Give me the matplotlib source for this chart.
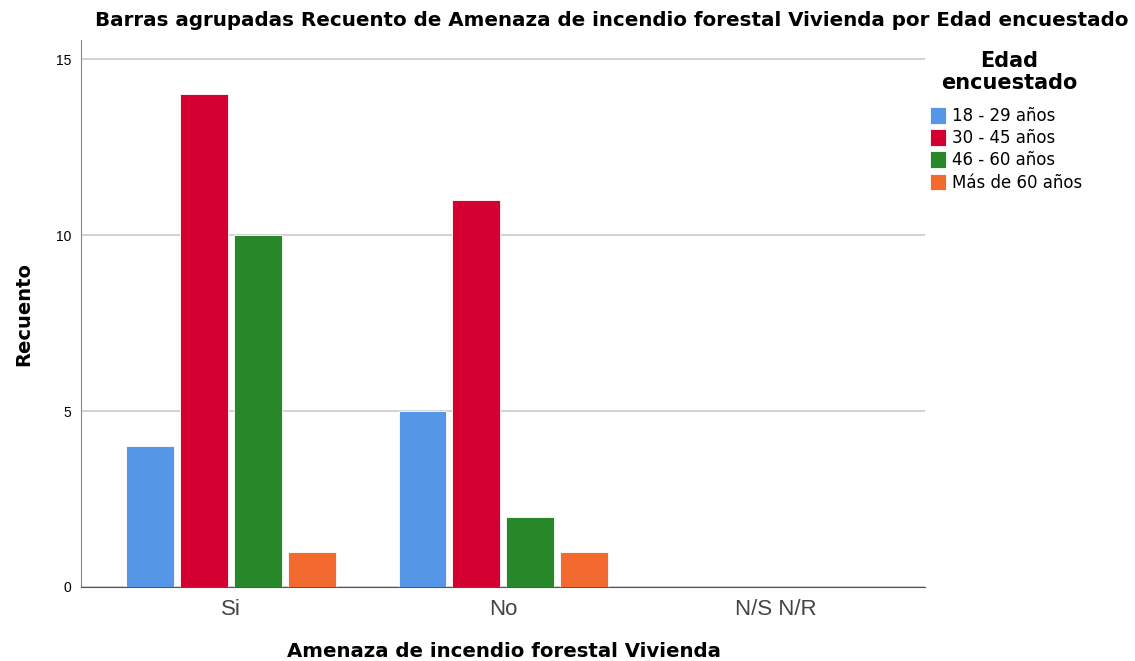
import numpy as np
import matplotlib.pyplot as plt

plt.rcParams['font.family'] = ['Liberation Sans', 'DejaVu Sans']

categorias = ['Si', 'No', 'N/S N/R']
grupos = ['18 - 29 años', '30 - 45 años', '46 - 60 años', 'Más de 60 años']
valores = {
    '18 - 29 años': [4, 5, 0],
    '30 - 45 años': [14, 11, 0],
    '46 - 60 años': [10, 2, 0],
    'Más de 60 años': [1, 1, 0],
}
colores = ['#5596E6', '#D50032', '#288728', '#F26A2E']

fig = plt.figure(figsize=(11.35, 6.61), dpi=100)
ax = fig.add_axes([0.0714, 0.112, 0.7436, 0.827])

x = np.arange(len(categorias))
ancho = 0.176
paso = 0.198
for i, g in enumerate(grupos):
    ax.bar(x + (i - 1.5) * paso, valores[g], width=ancho, color=colores[i],
           edgecolor='white', linewidth=0.6, label=g, zorder=3)

ax.set_xlim(-0.55, 2.547)
ax.set_ylim(0, 15.54)
ax.set_yticks([0, 5, 10, 15])
ax.yaxis.grid(True, color='#cccccc', linewidth=1.2, zorder=0)
ax.set_xticks(x)
ax.set_xticklabels(categorias, fontsize=16, color='#444444')
ax.tick_params(axis='y', labelsize=10, length=0, pad=7)
ax.tick_params(axis='x', length=0, pad=9)
for s in ['top', 'right']:
    ax.spines[s].set_visible(False)
ax.spines['left'].set_color('#888888')
ax.spines['bottom'].set_color('#555555')

fb = 'DejaVu Sans'
ax.set_xlabel('Amenaza de incendio forestal Vivienda', fontsize=14.2, fontweight='bold', family=fb)
ax.xaxis.set_label_coords(0.501, -0.1)
ax.set_ylabel('Recuento', fontsize=14, fontweight='bold', family=fb)
ax.yaxis.set_label_coords(-0.057, 0.5)
fig.text(0.539, 0.969, 'Barras agrupadas Recuento de Amenaza de incendio forestal Vivienda por Edad encuestado',
         ha='center', va='center', fontsize=14.3, fontweight='bold', family=fb)

# titulo de la leyenda aparte
fig.text(1009 / 1135, 1 - 72 / 661, 'Edad\nencuestado', ha='center', va='center',
         fontsize=15, fontweight='bold', family=fb, linespacing=1.1)

leg = ax.legend(loc='upper left', bbox_to_anchor=(1.006, 0.878), frameon=False,
                prop={'family': fb, 'size': 12}, borderaxespad=0, borderpad=0,
                handlelength=0.95, handleheight=1.15,
                handletextpad=0.35, labelspacing=0.25)

fig.savefig('out.png', dpi=100)
